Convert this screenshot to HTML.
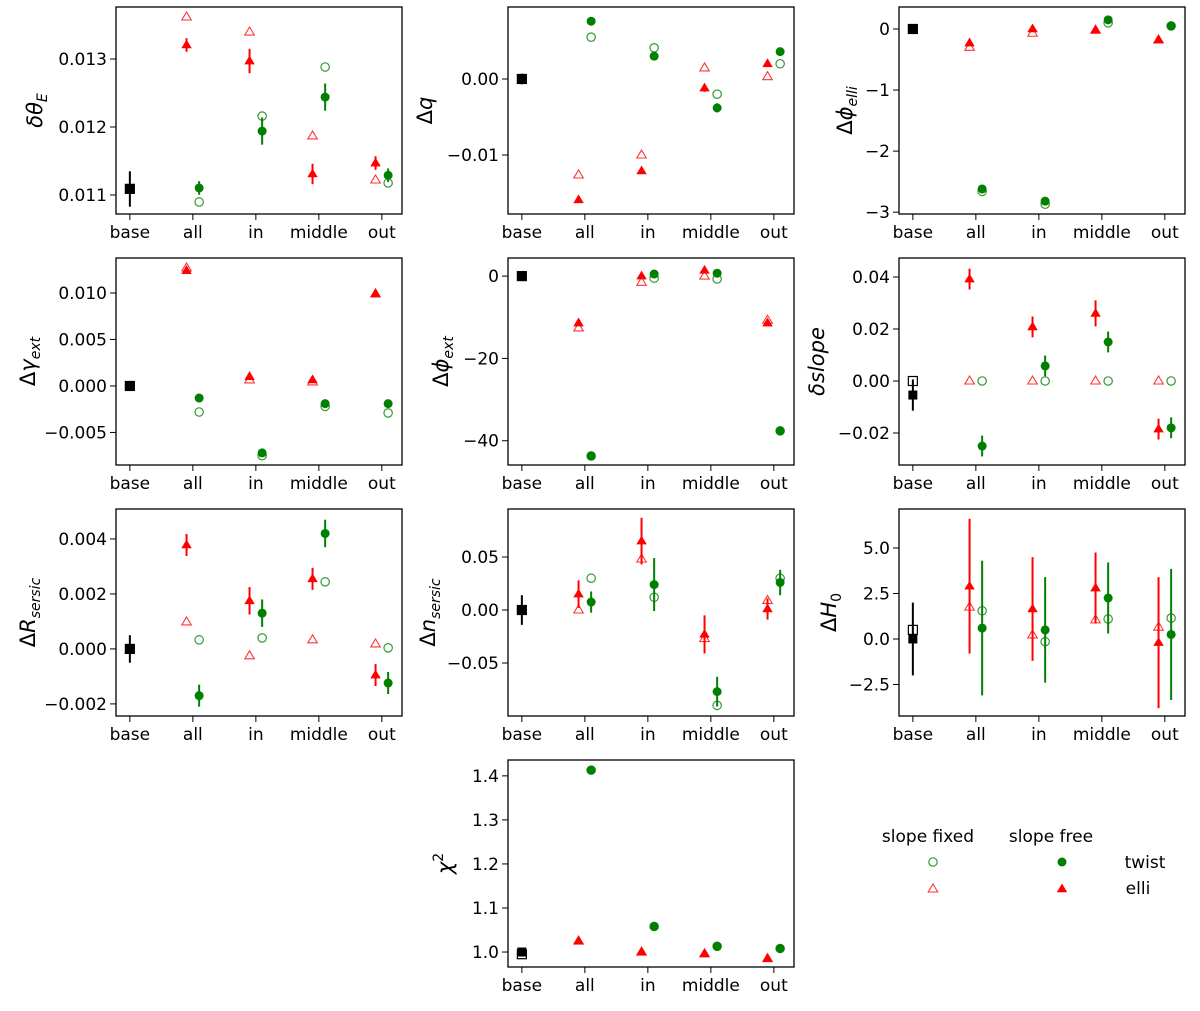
<!DOCTYPE html>
<html><head><meta charset="utf-8"><style>
html,body{margin:0;padding:0;background:#fff;}
svg{display:block;font-family:"DejaVu Sans","Liberation Sans",sans-serif;}
</style></head><body>
<svg id="fig" width="1200" height="1011" viewBox="0 0 1200 1011" xmlns="http://www.w3.org/2000/svg"></svg>
<script>
const categories = ['base','all','in','middle','out'];

// Panel 1: dtheta_E
const p1BaseFixed=0.01109, p1BaseFree=0.011088, p1BaseErr=0.00026;
const p1ElliFixed=[0.013618,0.013397,0.011868,0.01122];
const p1ElliFree=[0.013206,0.01297,0.011309,0.01147];
const p1ElliErr=[0.0001,0.00018,0.00015,0.0001];
const p1TwistFixed=[0.010897,0.01216,0.012882,0.011176];
const p1TwistFree=[0.011103,0.01194,0.01244,0.01129];
const p1TwistErr=[0.0001,0.0002,0.0002,0.0001];
const p1Ticks=[0.011,0.012,0.013]; const p1TickLabels=['0.011','0.012','0.013'];

// Panel 2: dq
const p2BaseFixed=0, p2BaseFree=0, p2BaseErr=0.0007;
const p2ElliFixed=[-0.01263,-0.01,0.00145,0.0003];
const p2ElliFree=[-0.0159,-0.0121,-0.0012,0.002];
const p2ElliErr=[0.0002,0.0003,0.0005,0.0003];
const p2TwistFixed=[0.0055,0.0041,-0.002,0.002];
const p2TwistFree=[0.0076,0.003,-0.0038,0.0036];
const p2TwistErr=[0.0003,0.0004,0.0006,0.0005];
const p2Ticks=[-0.01,0,0]; const p2TickLabels=['\u22120.01','0.00'];

// Panel 3: dphi_elli
const p3BaseFixed=0, p3BaseFree=0, p3BaseErr=0.02;
const p3ElliFixed=[-0.3,-0.07,-0.02,-0.18];
const p3ElliFree=[-0.23,0,-0.02,-0.18];
const p3ElliErr=[0.03,0.03,0.03,0.03];
const p3TwistFixed=[-2.66,-2.87,0.1,0.05];
const p3TwistFree=[-2.62,-2.82,0.15,0.05];
const p3TwistErr=[0.03,0.03,0.03,0.03];
const p3Ticks=[-3,-2,-1,0]; const p3TickLabels=['\u22123','\u22122','\u22121','0'];

// Panel 4: dgamma_ext
const p4BaseFixed=0, p4BaseFree=0, p4BaseErr=0.0001;
const p4ElliFixed=[0.01269,0.00065,0.00043,0.0099];
const p4ElliFree=[0.0124,0.001,0.00065,0.0099];
const p4ElliErr=[0.0002,0.0002,0.0002,0.0002];
const p4TwistFixed=[-0.0028,-0.0075,-0.0022,-0.0029];
const p4TwistFree=[-0.0013,-0.0072,-0.0019,-0.0019];
const p4TwistErr=[0.0002,0.0002,0.0002,0.0002];
const p4Ticks=[-0.005,0,0.005,0.01]; const p4TickLabels=['\u22120.005','0.000','0.005','0.010'];

// Panel 5: dphi_ext
const p5BaseFixed=0, p5BaseFree=0, p5BaseErr=0.3;
const p5ElliFixed=[-12.6,-1.5,0,-10.7];
const p5ElliFree=[-11.4,0,1.4,-11.4];
const p5ElliErr=[0.5,0.5,0.5,0.5];
const p5TwistFixed=[-43.7,-0.5,-0.7,-37.6];
const p5TwistFree=[-43.7,0.5,0.7,-37.6];
const p5TwistErr=[0.5,0.5,0.5,0.5];
const p5Ticks=[-40,-20,0]; const p5TickLabels=['\u221240','\u221220','0'];

// Panel 6: dslope
const p6BaseFixed=0, p6BaseFree=-0.0054, p6BaseErr=0.006;
const p6ElliFixed=[0,0,0,0];
const p6ElliFree=[0.0392,0.0208,0.026,-0.0185];
const p6ElliErr=[0.004,0.004,0.005,0.004];
const p6TwistFixed=[0,0,0,0];
const p6TwistFree=[-0.025,0.0058,0.015,-0.018];
const p6TwistErr=[0.004,0.004,0.004,0.004];
const p6Ticks=[-0.02,0,0.02,0.04]; const p6TickLabels=['\u22120.02','0.00','0.02','0.04'];

// Panel 7: dR_sersic
const p7BaseFixed=0, p7BaseFree=0, p7BaseErr=0.0005;
const p7ElliFixed=[0.00098,-0.00025,0.00033,0.00018];
const p7ElliFree=[0.00378,0.00175,0.00255,-0.00095];
const p7ElliErr=[0.0004,0.0005,0.0004,0.0004];
const p7TwistFixed=[0.00033,0.0004,0.00244,0.00004];
const p7TwistFree=[-0.0017,0.0013,0.0042,-0.00124];
const p7TwistErr=[0.0004,0.0005,0.0005,0.0004];
const p7Ticks=[-0.002,0,0.002,0.004]; const p7TickLabels=['\u22120.002','0.000','0.002','0.004'];

// Panel 8: dn_sersic
const p8BaseFixed=0, p8BaseFree=0, p8BaseErr=0.014;
const p8ElliFixed=[0,0.048,-0.027,0.009];
const p8ElliFree=[0.015,0.065,-0.023,0.001];
const p8ElliErr=[0.013,0.022,0.018,0.01];
const p8TwistFixed=[0.03,0.012,-0.09,0.03];
const p8TwistFree=[0.0075,0.024,-0.077,0.026];
const p8TwistErr=[0.01,0.025,0.014,0.012];
const p8Ticks=[-0.05,0,0.05]; const p8TickLabels=['\u22120.05','0.00','0.05'];

// Panel 9: dH0
const p9BaseFixed=0.5, p9BaseFree=0, p9BaseErr=2.0;
const p9ElliFixed=[1.75,0.22,1.05,0.65];
const p9ElliFree=[2.9,1.65,2.8,-0.2];
const p9ElliErr=[3.7,2.85,1.95,3.6];
const p9TwistFixed=[1.55,-0.15,1.1,1.15];
const p9TwistFree=[0.6,0.5,2.25,0.25];
const p9TwistErr=[3.7,2.9,1.95,3.6];
const p9Ticks=[-2.5,0,2.5,5]; const p9TickLabels=['\u22122.5','0.0','2.5','5.0'];

// Panel 10: chi2
const p10BaseFixed=0.995, p10BaseFree=1.0, p10BaseErr=0;
const p10ElliFixed=[1.025,1.0,0.996,0.985];
const p10ElliFree=[1.025,1.0,0.996,0.985];
const p10ElliErr=[0,0,0,0];
const p10TwistFixed=[1.413,1.058,1.013,1.008];
const p10TwistFree=[1.413,1.058,1.013,1.008];
const p10TwistErr=[0,0,0,0];
const p10Ticks=[1.0,1.1,1.2,1.3,1.4]; const p10TickLabels=['1.0','1.1','1.2','1.3','1.4'];

const NS='http://www.w3.org/2000/svg';
const svg=document.getElementById('fig');
function mk(tag,attrs,parent){const e=document.createElementNS(NS,tag);for(const k in attrs)e.setAttribute(k,attrs[k]);(parent||svg).appendChild(e);return e;}

const panels=[
 {id:'dtheta-e',x0:116,y0:7,ymin:0.01072,ymax:0.013765,lx:42,lab:[['δθ','italic',''],['E','italic','sub']],
  bf:p1BaseFixed,bv:p1BaseFree,be:p1BaseErr,ef:p1ElliFixed,ev:p1ElliFree,ee:p1ElliErr,tf:p1TwistFixed,tv:p1TwistFree,te:p1TwistErr,ticks:p1Ticks,tl:p1TickLabels},
 {id:'delta-q',x0:508,y0:7,ymin:-0.01776,ymax:0.00947,lx:432,lab:[['Δ','normal',''],['q','italic','']],
  bf:p2BaseFixed,bv:p2BaseFree,be:p2BaseErr,ef:p2ElliFixed,ev:p2ElliFree,ee:p2ElliErr,tf:p2TwistFixed,tv:p2TwistFree,te:p2TwistErr,ticks:[-0.01,0],tl:p2TickLabels},
 {id:'delta-phi-elli',x0:899,y0:7,ymin:-3.03,ymax:0.36,lx:852,lab:[['Δ','normal',''],['ϕ','italic',''],['elli','italic','sub']],
  bf:p3BaseFixed,bv:p3BaseFree,be:p3BaseErr,ef:p3ElliFixed,ev:p3ElliFree,ee:p3ElliErr,tf:p3TwistFixed,tv:p3TwistFree,te:p3TwistErr,ticks:p3Ticks,tl:p3TickLabels},
 {id:'delta-gamma-ext',x0:116,y0:258,ymin:-0.0085,ymax:0.01376,lx:35,lab:[['Δ','normal',''],['γ','italic',''],['ext','italic','sub']],
  bf:p4BaseFixed,bv:p4BaseFree,be:p4BaseErr,ef:p4ElliFixed,ev:p4ElliFree,ee:p4ElliErr,tf:p4TwistFixed,tv:p4TwistFree,te:p4TwistErr,ticks:p4Ticks,tl:p4TickLabels},
 {id:'delta-phi-ext',x0:508,y0:258,ymin:-45.9,ymax:4.4,lx:448,lab:[['Δ','normal',''],['ϕ','italic',''],['ext','italic','sub']],
  bf:p5BaseFixed,bv:p5BaseFree,be:p5BaseErr,ef:p5ElliFixed,ev:p5ElliFree,ee:p5ElliErr,tf:p5TwistFixed,tv:p5TwistFree,te:p5TwistErr,ticks:p5Ticks,tl:p5TickLabels},
 {id:'delta-slope',x0:899,y0:258,ymin:-0.0323,ymax:0.0473,lx:824,lab:[['δ','italic',''],['slope','italic','']],
  bf:p6BaseFixed,bv:p6BaseFree,be:p6BaseErr,ef:p6ElliFixed,ev:p6ElliFree,ee:p6ElliErr,tf:p6TwistFixed,tv:p6TwistFree,te:p6TwistErr,ticks:p6Ticks,tl:p6TickLabels},
 {id:'delta-r-sersic',x0:116,y0:509,ymin:-0.00244,ymax:0.00509,lx:35,lab:[['Δ','normal',''],['R','italic',''],['sersic','italic','sub']],
  bf:p7BaseFixed,bv:p7BaseFree,be:p7BaseErr,ef:p7ElliFixed,ev:p7ElliFree,ee:p7ElliErr,tf:p7TwistFixed,tv:p7TwistFree,te:p7TwistErr,ticks:p7Ticks,tl:p7TickLabels},
 {id:'delta-n-sersic',x0:508,y0:509,ymin:-0.1,ymax:0.0953,lx:435,lab:[['Δ','normal',''],['n','italic',''],['sersic','italic','sub']],
  bf:p8BaseFixed,bv:p8BaseFree,be:p8BaseErr,ef:p8ElliFixed,ev:p8ElliFree,ee:p8ElliErr,tf:p8TwistFixed,tv:p8TwistFree,te:p8TwistErr,ticks:p8Ticks,tl:p8TickLabels},
 {id:'delta-h0',x0:899,y0:509,ymin:-4.23,ymax:7.14,lx:836,lab:[['Δ','normal',''],['H','italic',''],['0','normal','sub']],
  bf:p9BaseFixed,bv:p9BaseFree,be:p9BaseErr,ef:p9ElliFixed,ev:p9ElliFree,ee:p9ElliErr,tf:p9TwistFixed,tv:p9TwistFree,te:p9TwistErr,ticks:p9Ticks,tl:p9TickLabels},
 {id:'chi2',x0:508,y0:760,ymin:0.966,ymax:1.436,lx:452,lab:[['χ','italic',''],['2','normal','super']],
  bf:p10BaseFixed,bv:p10BaseFree,be:p10BaseErr,ef:p10ElliFixed,ev:p10ElliFree,ee:p10ElliErr,tf:p10TwistFixed,tv:p10TwistFree,te:p10TwistErr,ticks:p10Ticks,tl:p10TickLabels}
];
const W=286,H=207,XMIN=-0.22,XMAX=4.32;
const RED='#ff0000',GREEN='#008000';

function square(g,cx,cy,filled,col){const s=9;const e=mk('rect',{x:cx-s/2,y:cy-s/2,width:s,height:s,fill:filled?col:'none',stroke:col,'stroke-width':filled?0:1.2},g);return e;}
function circle(g,cx,cy,filled,col){return mk('circle',{cx:cx,cy:cy,r:filled?4.5:4.2,fill:filled?col:'none',stroke:col,'stroke-width':filled?0:1.2,'stroke-opacity':filled?1:0.8},g);}
function tri(g,cx,cy,filled,col){const r=filled?5.5:5;const pts=[[cx,cy-r],[cx+r*0.95,cy+r*0.6],[cx-r*0.95,cy+r*0.6]].map(p=>p.join(',')).join(' ');return mk('polygon',{points:pts,fill:filled?col:'none',stroke:col,'stroke-width':filled?0:1.1,'stroke-opacity':filled?1:0.8},g);}

panels.forEach(p=>{
  const g=mk('g',{});
  
  
  const xs=v=>p.x0+(v-XMIN)/(XMAX-XMIN)*W;
  const ys=v=>p.y0+H-(v-p.ymin)/(p.ymax-p.ymin)*H;
  // y ticks
  p.ticks.forEach((t,i)=>{
    const y=ys(t);
    const tk=mk('line',{x1:p.x0-6,x2:p.x0,y1:y,y2:y,stroke:'#000','stroke-width':1},g);
    
    
    const tx=mk('text',{x:p.x0-9,y:y+6,'text-anchor':'end','font-size':17},g);
    tx.textContent=p.tl[i];
    
    
  });
  categories.forEach((c,i)=>{
    const x=xs(i);
    const tk=mk('line',{x1:x,x2:x,y1:p.y0+H,y2:p.y0+H+6,stroke:'#000','stroke-width':1},g);
    
    
    const tx=mk('text',{x:x,y:p.y0+H+24,'text-anchor':'middle','font-size':17},g);
    tx.textContent=c;
    
    
  });
  // y label
  const cy=p.y0+H/2;
  const lt=mk('text',{x:0,y:0,'text-anchor':'middle','font-size':21,transform:'translate('+p.lx+','+cy+') rotate(-90)'},g);
  
  
  p.lab.forEach(([s,st,sh])=>{
    const ts=mk('tspan',{'font-style':st},lt);
    if(sh==='sub'){ts.setAttribute('font-size',14);ts.setAttribute('dy',5);}
    if(sh==='super'){ts.setAttribute('font-size',14);ts.setAttribute('dy',-9);}
    ts.textContent=s;
  });
  // error bars + markers
  function eb(x,v,e,col,name){if(!e)return;const l=mk('line',{x1:x,x2:x,y1:ys(v-e),y2:ys(v+e),stroke:col,'stroke-width':2},g);}
  // base
  let m=square(g,xs(0),ys(p.bf),false,'#000');
  
  
  eb(xs(0),p.bv,p.be,'#000','base-error-bar');
  m=square(g,xs(0),ys(p.bv),true,'#000');
  
  
  for(let i=0;i<4;i++){
    const xe=xs(i+1-0.1), xt=xs(i+1+0.1);
    m=tri(g,xe,ys(p.ef[i]),false,RED);
    
    
    eb(xe,p.ev[i],p.ee[i],RED,'elli-error-bar');
    m=tri(g,xe,ys(p.ev[i]),true,RED);
    
    
    m=circle(g,xt,ys(p.tf[i]),false,GREEN);
    
    
    eb(xt,p.tv[i],p.te[i],GREEN,'twist-error-bar');
    m=circle(g,xt,ys(p.tv[i]),true,GREEN);
    
    
  }
  const fr=mk('rect',{x:p.x0,y:p.y0,width:W,height:H,fill:'none',stroke:'#000','stroke-width':1.3},g);
  
  
});

// legend
const lg=mk('g',{});


function lt(x,y,s,name){const t=mk('text',{x:x,y:y,'font-size':17,'text-anchor':'middle'},lg);t.textContent=s;}
lt(928,842,'slope fixed','legend-header-fixed');
lt(1051,842,'slope free','legend-header-free');
lt(1145,868,'twist','legend-label-twist');
lt(1138,894,'elli','legend-label-elli');
let lm=circle(lg,933,862,false,GREEN);


lm=circle(lg,1062,862,true,GREEN);


lm=tri(lg,933,889,false,RED);


lm=tri(lg,1062,889,true,RED);


</script>
</body></html>
